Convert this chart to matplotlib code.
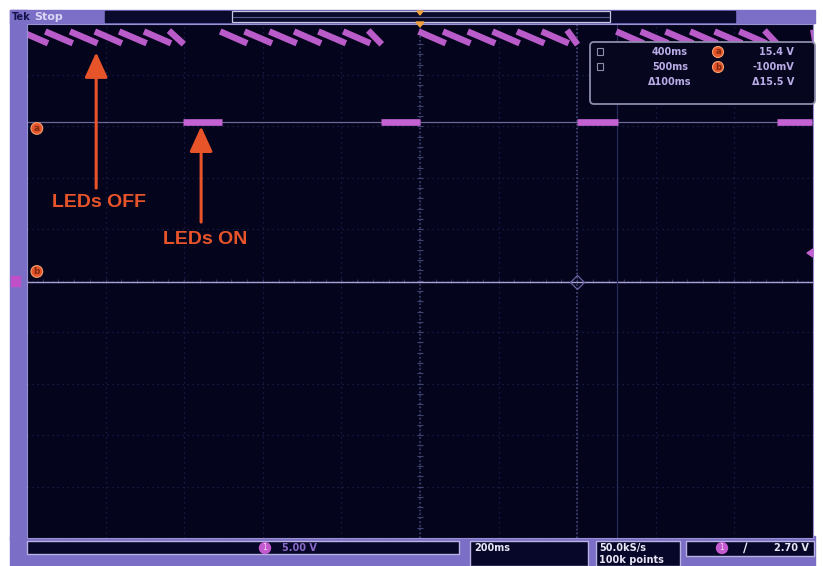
import numpy as np
import matplotlib
matplotlib.use("Agg")
import matplotlib.pyplot as plt
from matplotlib.patches import Rectangle, FancyBboxPatch, Circle, Polygon

# scope settings
time_per_div = 200      # ms / div
volts_per_div = 5.0     # V / div
n_divs = 10

# channel 1: sawtooth bursts while the LEDs are off (ms, V)
burst_start = [-1012, -505, 0, 503, 998]
burst_end = [-603, -99, 400, 908, 1010]
tooth_offsets = [0, 62, 125, 188, 250, 313, 375]
tooth_high = 24.1
tooth_low = 23.2
led_on_level = 15.4

# cursors
cursor_times = [400, 500]
cursor_volts = [15.4, -0.1]
readout_times = ["400ms", "500ms", "\u0394100ms"]
readout_volts = ["15.4 V", "-100mV", "\u039415.5 V"]

# status bar
ch1_scale = "5.00 V"
timebase = "200ms"
sample_rate = ["50.0kS/s", "100k points"]
trigger_level = "2.70 V"

LAV = "#7b6ec6"
SCREEN = "#04041c"
TRACE = "#c462d4"
ORANGE = "#e8542a"
TXT = "#b9ace6"

W, H = 823, 566
fig = plt.figure(figsize=(W / 100, H / 100), dpi=100)
fig.patch.set_facecolor("white")

# ---- frame / bars, pixel coordinates
bg = fig.add_axes([0, 0, 1, 1], zorder=0)
bg.set_xlim(0, W)
bg.set_ylim(H, 0)
bg.axis("off")
bg.add_patch(Rectangle((10, 10), 17, 530, color=LAV))
bg.add_patch(Rectangle((10, 10), 805, 13, color=LAV))
bg.add_patch(Rectangle((105, 11), 630, 11, color="#0a0a2c"))
bg.add_patch(Rectangle((232, 11), 378, 11, fill=False, ec="#c8c6e0", lw=0.9))
bg.plot([233, 609], [16.5, 16.5], color="#5a5e88", lw=0.8)
bg.add_patch(Rectangle((10, 536), 805, 30, color=LAV))
bg.text(12, 16.5, "Tek", color="#14124a", fontsize=7, fontweight="bold", va="center")
bg.text(34, 16.5, "Stop", color="#dcd6f6", fontsize=8, fontweight="bold", va="center")

# ---- screen
ax = fig.add_axes([27 / W, (H - 538) / H, 786 / W, 514.5 / H], zorder=1)
ax.set_facecolor(SCREEN)
half_t = time_per_div * n_divs / 2
half_v = volts_per_div * n_divs / 2
ax.set_xlim(-half_t, half_t)
ax.set_ylim(-half_v, half_v)
ax.set_xticks(np.arange(-half_t, half_t + 1, time_per_div))
ax.set_yticks(np.arange(-half_v, half_v + 0.1, volts_per_div))
ax.tick_params(length=0, labelbottom=False, labelleft=False)
ax.grid(color="#1f2350", linestyle=(0, (1, 3)), linewidth=0.9)
for s in ax.spines.values():
    s.set_color("#9a90d4")
    s.set_linewidth(0.8)

# centre graticule with minor ticks
ax.axvline(0, color="#444a78", linestyle=(0, (1, 1.5)), lw=1.1)
ax.plot(np.zeros(51), np.linspace(-half_v, half_v, 51), ls="none",
        marker="_", ms=4, color="#3e4370", mew=0.8)
ax.plot(np.linspace(-half_t, half_t, 51), np.zeros(51), ls="none",
        marker="|", ms=3, color="#2e325e", mew=0.8)

# cursors
ax.axhline(cursor_volts[0], color="#6e6898", lw=0.9)
ax.axhline(cursor_volts[1], color="#aaa2d4", lw=1.0)
ax.axvline(cursor_times[0], color="#4e5282", linestyle=(0, (1, 1.5)), lw=1.1)
ax.axvline(cursor_times[1], color="#262a5a", lw=0.9)
ax.plot(cursor_times[0], cursor_volts[1], marker="D", ms=7, mfc="none",
        mec="#6a64a0", mew=0.9)

# channel 1 trace: each ramp drawn on its own, the fast edges do not show
for b0, b1 in zip(burst_start, burst_end):
    starts = [b0 + o for o in tooth_offsets if b0 + o < b1]
    ends = starts[1:] + [b1]
    for t0, t1 in zip(starts, ends):
        ax.plot([t0 + 4, t1 - 4], [tooth_high, tooth_low], color=TRACE, lw=4.6,
                solid_capstyle="projecting", alpha=0.95)
for on0, on1 in zip(burst_end[:-1], burst_start[1:]):
    ax.plot([on0, on1], [led_on_level, led_on_level], color=TRACE, lw=4.8,
            solid_capstyle="butt")

# cursor tags a / b
for lbl, v in zip(["a", "b"], [cursor_volts[0] - 0.6, cursor_volts[1] + 1.0]):
    ax.text(-975, v, lbl, color="#7a2a10", fontsize=6.5, fontweight="bold",
            ha="center", va="center",
            bbox=dict(boxstyle="circle,pad=0.15", fc=ORANGE, ec="#f0a070", lw=0.8))

# annotations
arrow = dict(arrowstyle="-|>,head_length=0.7,head_width=0.32", mutation_scale=22,
             lw=2.2, color=ORANGE, shrinkA=0, shrinkB=0)
ax.annotate("", xy=(-824, 22.2), xytext=(-824, 9.0), arrowprops=arrow)
ax.annotate("", xy=(-557, 15.0), xytext=(-557, 5.7), arrowprops=arrow)
ax.text(-816, 7.6, "LEDs OFF", color=ORANGE, fontsize=14, fontweight="bold",
        ha="center", va="center", family="Liberation Sans")
ax.text(-546, 4.0, "LEDs ON", color=ORANGE, fontsize=14, fontweight="bold",
        ha="center", va="center", family="Liberation Sans")

# ---- overlay: readout, markers, status boxes
ov = fig.add_axes([0, 0, 1, 1], zorder=2)
ov.set_xlim(0, W)
ov.set_ylim(H, 0)
ov.axis("off")
ov.patch.set_alpha(0)

ov.add_patch(FancyBboxPatch((590, 42), 225, 62, boxstyle="round,pad=0,rounding_size=4",
                            fc="#06061f", ec="#8e8cab", lw=1.3))
row_y = [52, 67, 82]
for i, y in enumerate(row_y):
    if i < 2:
        ov.add_patch(Rectangle((597, y - 4), 6, 7, fill=False, ec="#8e8cab", lw=0.8))
        ov.add_patch(Circle((718, y), 5.5, fc=ORANGE, ec="#f0a070", lw=0.8))
        ov.text(718, y, "ab"[i], color="#7a2a10", fontsize=6, fontweight="bold",
                ha="center", va="center")
    ov.text(670, y, readout_times[i], color=TXT, fontsize=7, fontweight="bold",
            ha="center", va="center")
    ov.text(794, y, readout_volts[i], color=TXT, fontsize=7, fontweight="bold",
            ha="right", va="center")

# trigger position, ground and trigger level markers
ov.add_patch(Polygon([[416, 22], [424, 22], [420, 27]], color="#f0a040"))
ov.add_patch(Polygon([[417, 11], [423, 11], [420, 15]], color="#f0a040"))
ov.add_patch(Rectangle((11, 276), 9, 10, color="#c050c8"))
ov.add_patch(Polygon([[813, 249], [813, 257], [807, 253]], color=TRACE))

# status bar
boxes = [(27, 541, 432, 13), (470, 541, 118, 25), (596, 541, 84, 25), (686, 541, 128, 15)]
for x0, y0, w, h in boxes:
    ov.add_patch(Rectangle((x0, y0), w, h, fc="#07072a", ec="#b8b2e2", lw=1.0))
ov.add_patch(Circle((265, 548), 5.5, color="#c45ad0"))
ov.text(265, 548, "1", color="#f4d4f6", fontsize=5.5, ha="center", va="center")
ov.text(282, 548, ch1_scale, color="#8a6ac8", fontsize=7, fontweight="bold", va="center")
ov.text(474, 548, timebase, color="#e8e6f4", fontsize=7, fontweight="bold", va="center")
ov.text(599, 548, sample_rate[0], color="#e8e6f4", fontsize=7, fontweight="bold", va="center")
ov.text(599, 560, sample_rate[1], color="#e8e6f4", fontsize=7, fontweight="bold", va="center")
ov.add_patch(Circle((722, 548), 5.5, color="#c45ad0"))
ov.text(722, 548, "1", color="#f4d4f6", fontsize=5.5, ha="center", va="center")
ov.text(745, 548, "\u2215", color="#f0f0f8", fontsize=9, fontweight="bold",
        ha="center", va="center")
ov.text(809, 548, trigger_level, color="#e8e6f4", fontsize=7, fontweight="bold",
        ha="right", va="center")

fig.savefig("out.png", dpi=100, facecolor=fig.get_facecolor())
